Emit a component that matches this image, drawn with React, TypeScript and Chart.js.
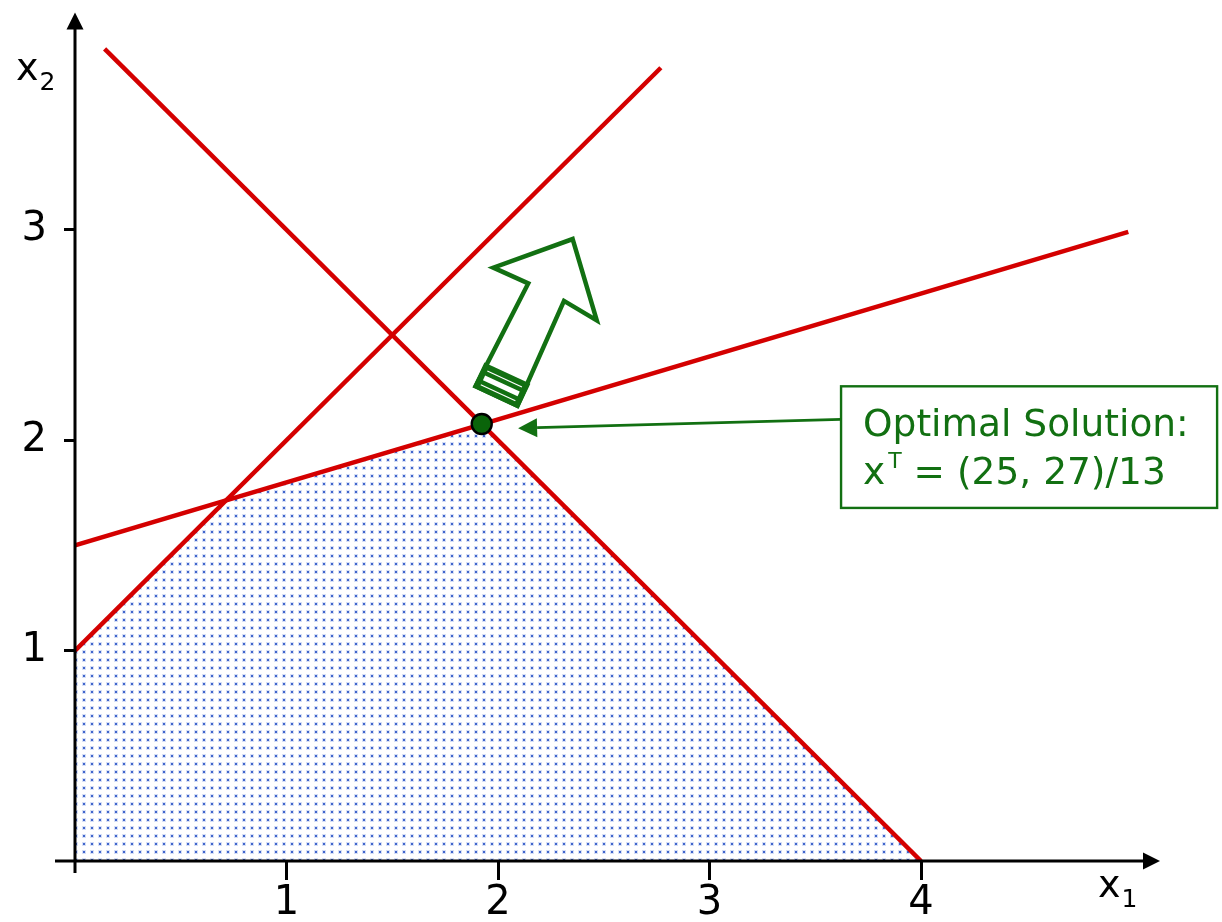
import React, { useEffect, useRef } from "react";
import { Chart, registerables } from "chart.js";

Chart.register(...registerables);

// ---------- data ----------
const X_TICKS = [1, 2, 3, 4];
const Y_TICKS = [1, 2, 3];
const X_MAX = 5.13;
const Y_MAX = 4.033;

// constraint lines (endpoints as drawn)
const LINE_SUM = [{ x: 0.14, y: 3.86 }, { x: 4, y: 0 }]; // x1 + x2 = 4
const LINE_STEEP = [{ x: 0, y: 1 }, { x: 2.77, y: 3.77 }]; // x2 = x1 + 1
const LINE_FLAT = [{ x: 0, y: 1.5 }, { x: 4.98, y: 2.99 }]; // x2 = 1.5 + 0.3 x1

// upper boundary of feasible region (filled down to x2 = 0)
const FEASIBLE = [
  { x: 0, y: 1 },
  { x: 5 / 7, y: 12 / 7 },
  { x: 25 / 13, y: 27 / 13 },
  { x: 4, y: 0 },
];

const OPTIMUM = [{ x: 25 / 13, y: 27 / 13 }];

// objective direction arrow outline (tip, right barb, right inner, bottom-right, bottom-left, left inner, left barb)
const OBJECTIVE_ARROW = [
  { x: 2.353, y: 2.956 },
  { x: 2.467, y: 2.569 },
  { x: 2.312, y: 2.662 },
  { x: 2.092, y: 2.164 },
  { x: 1.894, y: 2.256 },
  { x: 2.143, y: 2.745 },
  { x: 1.978, y: 2.82 },
];

const ANNOTATION_TITLE = "Optimal Solution:";
const ANNOTATION_VAR = "x";
const ANNOTATION_SUP = "T";
const ANNOTATION_VALUE = " = (25, 27)/13";
const X_TITLE = ["x", "1"];
const Y_TITLE = ["x", "2"];

// annotation placement (data coordinates)
const BOX_TOP_LEFT = { x: 3.622, y: 2.256 };
const BOX_BOTTOM_RIGHT = { x: 5.4, y: 1.678 };
const POINTER_TIP = { x: 2.095, y: 2.057 };

// ---------- style ----------
const FONT = '"DejaVu Sans", "Liberation Sans", sans-serif';
const RED = "#d40000";
const GREEN = "#127012";
const GREEN_DARK = "#0a640a";

function makePattern(): CanvasPattern | string {
  const pc = document.createElement("canvas");
  pc.width = 8;
  pc.height = 8;
  const p = pc.getContext("2d");
  if (!p) return "rgba(80,110,210,0.2)";
  p.fillStyle = "rgba(120,150,225,0.3)";
  p.fillRect(2, 2, 4, 4);
  p.fillStyle = "#4166cc";
  p.fillRect(3, 3, 2, 2);
  const pat = p.createPattern(pc, "repeat");
  return pat || "rgba(80,110,210,0.2)";
}

const overlay = {
  id: "overlay",
  afterDatasetsDraw(chart: any) {
    const ctx: CanvasRenderingContext2D = chart.ctx;
    const xs = chart.scales.x;
    const ys = chart.scales.y;
    const px = (v: number) => xs.getPixelForValue(v);
    const py = (v: number) => ys.getPixelForValue(v);
    const x0 = px(0);
    const y0 = py(0);
    const xEnd = xs.right;
    const yEnd = ys.top;

    ctx.save();
    // axes
    ctx.strokeStyle = "#000";
    ctx.fillStyle = "#000";
    ctx.lineWidth = 3;
    ctx.beginPath();
    ctx.moveTo(x0 - 20, y0);
    ctx.lineTo(xEnd - 12, y0);
    ctx.moveTo(x0, y0 + 12);
    ctx.lineTo(x0, yEnd + 12);
    ctx.stroke();
    // arrowheads
    ctx.beginPath();
    ctx.moveTo(xEnd, y0);
    ctx.lineTo(xEnd - 17, y0 - 8.5);
    ctx.lineTo(xEnd - 17, y0 + 8.5);
    ctx.closePath();
    ctx.fill();
    ctx.beginPath();
    ctx.moveTo(x0, yEnd);
    ctx.lineTo(x0 - 8.5, yEnd + 17);
    ctx.lineTo(x0 + 8.5, yEnd + 17);
    ctx.closePath();
    ctx.fill();

    // axis titles
    ctx.textBaseline = "alphabetic";
    ctx.textAlign = "left";
    ctx.font = `38px ${FONT}`;
    ctx.fillText(X_TITLE[0], xEnd - 62, y0 + 36);
    let w = ctx.measureText(X_TITLE[0]).width;
    ctx.font = `25px ${FONT}`;
    ctx.fillText(X_TITLE[1], xEnd - 62 + w + 1, y0 + 46);
    ctx.font = `38px ${FONT}`;
    ctx.fillText(Y_TITLE[0], x0 - 59, yEnd + 68);
    w = ctx.measureText(Y_TITLE[0]).width;
    ctx.font = `25px ${FONT}`;
    ctx.fillText(Y_TITLE[1], x0 - 59 + w + 1, yEnd + 78);

    // objective arrow
    const pts = OBJECTIVE_ARROW.map((p) => ({ x: px(p.x), y: py(p.y) }));
    ctx.beginPath();
    pts.forEach((p, i) => (i === 0 ? ctx.moveTo(p.x, p.y) : ctx.lineTo(p.x, p.y)));
    ctx.closePath();
    ctx.fillStyle = "#fff";
    ctx.fill();
    ctx.strokeStyle = GREEN;
    ctx.lineWidth = 4.5;
    ctx.lineJoin = "miter";
    ctx.stroke();
    // stripes at the base of the arrow
    const BR = pts[3];
    const BL = pts[4];
    const RI = pts[2];
    const LI = pts[5];
    const d1 = { x: LI.x - BL.x, y: LI.y - BL.y };
    const d2 = { x: RI.x - BR.x, y: RI.y - BR.y };
    const l1 = Math.hypot(d1.x, d1.y);
    const l2 = Math.hypot(d2.x, d2.y);
    let u = { x: d1.x / l1 + d2.x / l2, y: d1.y / l1 + d2.y / l2 };
    const lu = Math.hypot(u.x, u.y);
    u = { x: u.x / lu, y: u.y / lu };
    const vv = { x: BR.x - BL.x, y: BR.y - BL.y };
    const lv = Math.hypot(vv.x, vv.y);
    const v = { x: vv.x / lv, y: vv.y / lv };
    const depth = 23;
    ctx.fillStyle = GREEN;
    ctx.beginPath();
    ctx.moveTo(BL.x, BL.y);
    ctx.lineTo(BR.x, BR.y);
    ctx.lineTo(BR.x + u.x * depth, BR.y + u.y * depth);
    ctx.lineTo(BL.x + u.x * depth, BL.y + u.y * depth);
    ctx.closePath();
    ctx.fill();
    ctx.stroke();
    const whiteLine = (d: number, width: number) => {
      ctx.strokeStyle = "#fff";
      ctx.lineWidth = width;
      ctx.beginPath();
      ctx.moveTo(BL.x + u.x * d + v.x * 4, BL.y + u.y * d + v.y * 4);
      ctx.lineTo(BR.x + u.x * d - v.x * 4, BR.y + u.y * d - v.y * 4);
      ctx.stroke();
    };
    whiteLine(3.6, 1.3);
    whiteLine(11.2, 5.2);
    whiteLine(18.8, 1.3);

    // annotation box
    const bx = px(BOX_TOP_LEFT.x);
    const by = py(BOX_TOP_LEFT.y);
    const bx2 = px(BOX_BOTTOM_RIGHT.x);
    const by2 = py(BOX_BOTTOM_RIGHT.y);
    ctx.fillStyle = "#fff";
    ctx.fillRect(bx, by, bx2 - bx, by2 - by);
    ctx.strokeStyle = GREEN;
    ctx.lineWidth = 2.4;
    ctx.strokeRect(bx, by, bx2 - bx, by2 - by);

    // pointer
    const tx = px(POINTER_TIP.x);
    const ty = py(POINTER_TIP.y);
    const sx = bx;
    const sy = by + 33;
    const ang = Math.atan2(ty - sy, tx - sx);
    const hl = 19;
    const hw = 9.5;
    const baseX = tx - Math.cos(ang) * hl;
    const baseY = ty - Math.sin(ang) * hl;
    ctx.lineWidth = 2.8;
    ctx.beginPath();
    ctx.moveTo(sx, sy);
    ctx.lineTo(baseX, baseY);
    ctx.stroke();
    ctx.fillStyle = GREEN;
    ctx.beginPath();
    ctx.moveTo(tx, ty);
    ctx.lineTo(baseX - Math.sin(ang) * hw, baseY + Math.cos(ang) * hw);
    ctx.lineTo(baseX + Math.sin(ang) * hw, baseY - Math.cos(ang) * hw);
    ctx.closePath();
    ctx.fill();

    // annotation text
    ctx.fillStyle = GREEN;
    ctx.font = `37.5px ${FONT}`;
    const tx0 = bx + 22;
    ctx.fillText(ANNOTATION_TITLE, tx0, by + 50);
    ctx.fillText(ANNOTATION_VAR, tx0, by + 98);
    const wv = ctx.measureText(ANNOTATION_VAR).width;
    ctx.font = `22px ${FONT}`;
    ctx.fillText(ANNOTATION_SUP, tx0 + wv + 3, by + 82);
    const ws = ctx.measureText(ANNOTATION_SUP).width;
    ctx.font = `37.5px ${FONT}`;
    ctx.fillText(ANNOTATION_VALUE, tx0 + wv + 3 + ws, by + 98);

    ctx.restore();
  },
};

export default function App() {
  const ref = useRef<HTMLCanvasElement | null>(null);

  useEffect(() => {
    document.body.style.margin = "0";
    document.body.style.overflow = "hidden";
    const canvas = ref.current;
    if (!canvas) return;
    const pattern = makePattern();
    const lineDs = (data: { x: number; y: number }[]) => ({
      data,
      borderColor: RED,
      borderWidth: 4.5,
      pointRadius: 0,
      fill: false,
      tension: 0,
      order: 5,
    });
    const noPad = (s: any) => {
      s.paddingTop = 0;
      s.paddingBottom = 0;
      s.paddingLeft = 0;
      s.paddingRight = 0;
    };
    const chart = new Chart(canvas, {
      type: "line",
      data: {
        datasets: [
          {
            data: FEASIBLE,
            fill: "origin",
            backgroundColor: pattern as any,
            borderColor: "rgba(0,0,0,0)",
            borderWidth: 0,
            pointRadius: 0,
            tension: 0,
            order: 10,
          },
          lineDs(LINE_SUM),
          lineDs(LINE_STEEP),
          lineDs(LINE_FLAT),
          {
            data: OPTIMUM,
            showLine: false,
            pointRadius: 10,
            pointBackgroundColor: GREEN_DARK,
            pointBorderColor: "#000",
            pointBorderWidth: 2.4,
            order: 0,
          },
        ] as any,
      },
      options: {
        responsive: false,
        animation: false,
        events: [],
        layout: { padding: { left: 0, right: 62, top: 10, bottom: 0 } },
        plugins: { legend: { display: false }, tooltip: { enabled: false } },
        scales: {
          x: {
            type: "linear",
            min: 0,
            max: X_MAX,
            border: { display: false },
            grid: {
              display: true,
              drawOnChartArea: false,
              drawTicks: true,
              tickLength: 19,
              tickWidth: 3,
              tickColor: "#000",
            },
            ticks: {
              autoSkip: false,
              maxRotation: 0,
              padding: 0,
              color: "#000",
              font: { family: FONT, size: 40 },
              callback: (val: any) => String(val),
            },
            afterBuildTicks: (s: any) => {
              s.ticks = X_TICKS.map((v) => ({ value: v }));
            },
            afterFit: (s: any) => {
              s.height = 61;
              noPad(s);
            },
          },
          y: {
            type: "linear",
            min: 0,
            max: Y_MAX,
            border: { display: false },
            grid: {
              display: true,
              drawOnChartArea: false,
              drawTicks: true,
              tickLength: 11,
              tickWidth: 3,
              tickColor: "#000",
            },
            ticks: {
              autoSkip: false,
              padding: 17,
              color: "#000",
              font: { family: FONT, size: 40 },
              callback: (val: any) => String(val),
            },
            afterBuildTicks: (s: any) => {
              s.ticks = Y_TICKS.map((v) => ({ value: v }));
            },
            afterFit: (s: any) => {
              s.width = 75;
              noPad(s);
            },
          },
        },
      } as any,
      plugins: [overlay],
    });
    return () => chart.destroy();
  }, []);

  return (
    <div style={{ width: 1222, height: 922, background: "#fff" }}>
      <canvas ref={ref} width={1222} height={922} style={{ display: "block" }} />
    </div>
  );
}
